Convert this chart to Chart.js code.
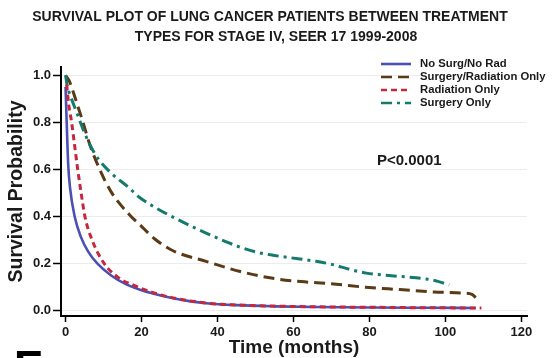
<!DOCTYPE html>
<html>
<head>
<meta charset="utf-8">
<script src="https://cdn.jsdelivr.net/npm/chart.js@4"></script>
<style>
html,body{margin:0;padding:0;background:#fff;}
#wrap{width:553px;height:358px;position:relative;}
</style>
</head>
<body>
<div id="wrap"><canvas id="c" width="553" height="358"></canvas></div>
<script>
// ---- data ----
const seriesNames = ["No Surg/No Rad", "Surgery/Radiation Only", "Radiation Only", "Surgery Only"];
const titleLines = ["SURVIVAL PLOT OF LUNG CANCER PATIENTS BETWEEN TREATMENT", "TYPES FOR STAGE IV, SEER 17 1999-2008"];
const xTickLabels = [0, 20, 40, 60, 80, 100, 120];
const yTickLabels = [0.0, 0.2, 0.4, 0.6, 0.8, 1.0];
const pValueText = "P<0.0001";

const timeNoSurgNoRad = [0, 0.3, 0.7, 1.2, 2.4, 4, 6, 8.4, 12, 16, 20, 23.5, 28, 33, 37, 45, 55, 66, 80, 95, 108];
const survNoSurgNoRad = [0.95, 0.8, 0.62, 0.52, 0.4, 0.315, 0.25, 0.2, 0.15, 0.112, 0.087, 0.071, 0.054, 0.04, 0.032, 0.024, 0.019, 0.016, 0.014, 0.013, 0.012];

const timeSurgRad = [0, 1, 2, 3, 4.6, 6.4, 9, 12, 17, 19.6, 23.5, 28.3, 37, 46, 54.6, 62, 70, 79, 88, 97, 105, 107, 108];
const survSurgRad = [1.0, 0.975, 0.93, 0.88, 0.8, 0.705, 0.6, 0.505, 0.405, 0.365, 0.305, 0.255, 0.21, 0.167, 0.138, 0.124, 0.115, 0.1, 0.09, 0.08, 0.075, 0.07, 0.056];

const timeRadOnly = [0.3, 0.8, 1.6, 2.4, 3.2, 4.1, 5.1, 7, 10.2, 14, 18, 23.5, 28, 37, 45, 55, 66, 80, 95, 109.5];
const survRadOnly = [0.96, 0.88, 0.8, 0.7, 0.6, 0.5, 0.4, 0.3, 0.2, 0.14, 0.108, 0.075, 0.056, 0.033, 0.025, 0.02, 0.017, 0.015, 0.013, 0.012];

const timeSurgOnly = [0, 0.5, 1.1, 2.5, 3.8, 5, 6.4, 8.6, 12, 16.5, 19.6, 24, 28, 33, 37, 42, 46, 50, 55, 61.7, 66, 70.4, 74.8, 79.2, 88, 95, 98, 101];
const survSurgOnly = [1.0, 0.95, 0.92, 0.86, 0.805, 0.755, 0.705, 0.645, 0.585, 0.525, 0.48, 0.435, 0.4, 0.36, 0.33, 0.295, 0.27, 0.25, 0.235, 0.22, 0.21, 0.196, 0.176, 0.16, 0.146, 0.135, 0.125, 0.11];

// ---- styles ----
const FONT = "'Liberation Sans', Arial, sans-serif";
const styles = [
  {color: '#4b50b4', width: 2.6, dash: [], order: 4},
  {color: '#5a3a17', width: 3, dash: [11, 6], order: 3},
  {color: '#c4283e', width: 3, dash: [6, 4], order: 1},
  {color: '#157a6b', width: 3, dash: [11, 5, 3, 5], order: 2}
];
const seriesT = [timeNoSurgNoRad, timeSurgRad, timeRadOnly, timeSurgOnly];
const seriesS = [survNoSurgNoRad, survSurgRad, survRadOnly, survSurgOnly];

const datasets = seriesNames.map((name, i) => ({
  label: name,
  data: seriesT[i].map((t, k) => ({x: t, y: seriesS[i][k]})),
  borderColor: styles[i].color,
  borderWidth: styles[i].width,
  borderDash: styles[i].dash,
  pointRadius: 0,
  fill: false,
  cubicInterpolationMode: 'monotone',
  order: styles[i].order
}));

const extras = {
  id: 'extras',
  afterDraw(chart) {
    const ctx = chart.ctx;
    ctx.save();
    // title
    ctx.fillStyle = '#1a1a1a';
    ctx.textAlign = 'center';
    ctx.textBaseline = 'middle';
    ctx.font = "bold 14px " + FONT;
    ctx.fillText(titleLines[0], 270, 17.5, 484);
    ctx.fillText(titleLines[1], 276, 37.5);
    // legend
    const rows = [64, 77, 90, 103];
    ctx.font = "bold 11.3px " + FONT;
    ctx.textAlign = 'left';
    seriesNames.forEach((name, i) => {
      const y = rows[i];
      ctx.beginPath();
      ctx.strokeStyle = styles[i].color;
      ctx.lineWidth = 2.6;
      ctx.setLineDash(styles[i].dash);
      ctx.moveTo(381, y);
      ctx.lineTo(411, y);
      ctx.stroke();
      ctx.setLineDash([]);
      ctx.fillStyle = '#1a1a1a';
      ctx.fillText(name, 420, y);
    });
    // p-value
    ctx.font = "bold 15px " + FONT;
    ctx.fillText(pValueText, 377, 161);
    // panel letter (cut off)
    ctx.font = "bold 44px " + FONT;
    ctx.textBaseline = 'alphabetic';
    ctx.fillStyle = '#000';
    ctx.fillText('E', 14, 381.5);
    ctx.restore();
  }
};

new Chart(document.getElementById('c'), {
  type: 'line',
  data: {datasets},
  plugins: [extras],
  options: {
    responsive: false,
    animation: false,
    events: [],
    layout: {padding: {top: 67, right: 26, left: 0, bottom: 0}},
    plugins: {legend: {display: false}, title: {display: false}, tooltip: {enabled: false}},
    scales: {
      x: {
        type: 'linear',
        min: -1.2,
        max: 121.5,
        afterBuildTicks: (s) => { s.ticks = xTickLabels.map(v => ({value: v})); },
        afterFit: (s) => { s.height = 42; },
        ticks: {color: '#1a1a1a', font: {family: FONT, size: 13, weight: 'bold'}, padding: 3, maxRotation: 0,
                callback: (v) => String(v)},
        grid: {drawOnChartArea: false, drawTicks: true, tickLength: 6, tickColor: '#000', tickWidth: 1.5},
        border: {display: true, color: '#000', width: 2},
        title: {display: true, text: 'Time (months)', color: '#1a1a1a',
                font: {family: FONT, size: 19, weight: 'bold', lineHeight: 1}, padding: {top: 0, bottom: 0.5}}
      },
      y: {
        type: 'linear',
        min: -0.022,
        max: 1.035,
        afterBuildTicks: (s) => { s.ticks = yTickLabels.map(v => ({value: v})); },
        afterFit: (s) => { s.width = 61; },
        ticks: {color: '#1a1a1a', font: {family: FONT, size: 13, weight: 'bold'}, padding: 2,
                callback: (v) => Number(v).toFixed(1)},
        grid: {color: '#ececec', lineWidth: 1, drawTicks: true, tickLength: 8, tickColor: '#000', tickWidth: 1.5},
        border: {display: true, color: '#000', width: 2},
        title: {display: true, text: 'Survival Probability', color: '#1a1a1a',
                font: {family: FONT, size: 19.5, weight: 'bold', lineHeight: 1.2}, padding: {top: 5, bottom: 0}}
      }
    }
  }
});
</script>
</body>
</html>
